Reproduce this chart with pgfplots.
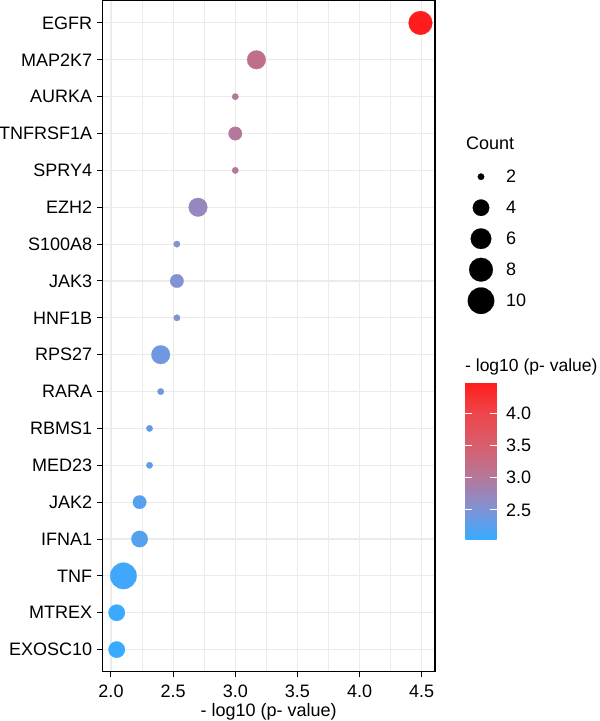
\documentclass[border=0pt]{standalone}
\usepackage{pgfplots}
\pgfplotsset{compat=1.18}
\usepackage{pgfplotstable}
\usepackage{fontspec}
\setmainfont{Liberation Sans}
\newcommand{\fs}{\fontsize{18bp}{21bp}\selectfont}
\definecolor{gridc}{RGB}{235,235,235}
\pgfplotsset{
  colormap={pv}{rgb255(0pt)=(56,170,255); rgb255(18pt)=(125,148,215); rgb255(39pt)=(180,120,155); rgb255(59pt)=(215,95,110); rgb255(80pt)=(238,70,75); rgb255(100pt)=(255,28,28)}
}
\pgfplotstableread{
gene pv count idx
EGFR 4.49 8 0
MAP2K7 3.17 5 1
AURKA 3.00 2 2
TNFRSF1A 3.00 3 3
SPRY4 3.00 2 4
EZH2 2.70 5 5
S100A8 2.53 2 6
JAK3 2.53 3 7
HNF1B 2.53 2 8
RPS27 2.40 5 9
RARA 2.40 2 10
RBMS1 2.31 2 11
MED23 2.31 2 12
JAK2 2.23 3 13
IFNA1 2.23 4 14
TNF 2.10 10 15
MTREX 2.046 4 16
EXOSC10 2.046 4 17
}\genes
\pgfplotstableread{
cnt idx
2 1
4 2
6 3
8 4
10 5
}\sizeleg
\begin{document}
\begin{tikzpicture}
\useasboundingbox (0,0) rectangle (600bp,-721bp);
\begin{axis}[
  at={(102.3bp,-671.7bp)}, anchor=south west,
  scale only axis, width=332.7bp, height=670.9bp,
  xmin=1.93, xmax=4.607,
  ymin=-0.6, ymax=17.6, y dir=reverse,
  xtick={2,2.5,3,3.5,4,4.5}, minor x tick num=1,
  ytick={0,1,2,3,4,5,6,7,8,9,10,11,12,13,14,15,16,17},
  yticklabels={EGFR,MAP2K7,AURKA,TNFRSF1A,SPRY4,EZH2,S100A8,JAK3,HNF1B,RPS27,RARA,RBMS1,MED23,JAK2,IFNA1,TNF,MTREX,EXOSC10},
  xtick pos=bottom, ytick pos=left,
  tick align=outside, major tick length=5.5bp, minor tick length=0pt,
  tick style={black, line width=1bp},
  xmajorgrids, xminorgrids, ymajorgrids,
  major grid style={gridc, line width=1.1bp},
  minor grid style={gridc, line width=0.6bp},
  axis line style={black, line width=1.1bp},
  tick label style={font=\fs, black},
  yticklabel style={anchor=east, inner sep=0pt, xshift=-4.5bp},
  /pgf/number format/assume math mode=true,
  xticklabel style={anchor=north, inner sep=0pt, yshift=-7.5bp, /pgf/number format/.cd, fixed, fixed zerofill, precision=1},
  xlabel={- log10 (p- value)},
  xlabel style={font=\fs, at={(axis description cs:0.5,0)}, anchor=center, yshift=-40bp},
  point meta min=2.046, point meta max=4.49,
  colormap name=pv,
  colorbar right,
  colorbar/width=31.4bp,
  colorbar style={
    at={(parent axis.north east)}, anchor=north west,
    xshift=21.8bp, yshift=-381.2bp,
    scale only axis, width=31.4bp, height=157bp,
    axis on top,
    ytick={2.5,3,3.5,4},
    yticklabel pos=right, ytick pos=both,
    tick align=inside, major tick length=6.5bp,
    ytick style={white, line width=1.2bp},
    axis line style={draw=none},
    yticklabel style={font=\fs, black, anchor=west, inner sep=0pt, xshift=9.3bp, /pgf/number format/.cd, fixed, fixed zerofill, precision=1, assume math mode=true},
  },
]
\addplot[scatter, only marks, mark=*, point meta=x,
  scatter/use mapped color={draw=mapped color, fill=mapped color},
  mark options={line width=0.2bp},
  visualization depends on={2*(1+5*sqrt((\thisrow{count}-2)/8))+1.25 \as \msize},
  scatter/@pre marker code/.append style={/tikz/mark size=\msize},
] table[x=pv, y=idx] {\genes};
\end{axis}

\begin{axis}[
  at={(466bp,-316.2bp)}, anchor=south west,
  scale only axis, width=30bp, height=155bp, hide axis,
  xmin=-1, xmax=1, ymin=0.5, ymax=5.5, y dir=reverse, clip=false,
]
\addplot[scatter, only marks, mark=*, point meta=y,
  scatter/use mapped color={draw=black, fill=black},
  mark options={line width=0.2bp},
  visualization depends on={2*(1+5*sqrt((\thisrow{cnt}-2)/8))+1.25 \as \msize},
  scatter/@pre marker code/.append style={/tikz/mark size=\msize},
] table[x expr=0, y=idx] {\sizeleg};
\end{axis}

\node[anchor=west, inner sep=0, font=\fs] at (466bp,-143bp) {Count};
\node[anchor=west, inner sep=0, font=\fs] at (506bp,-176.7bp) {2};
\node[anchor=west, inner sep=0, font=\fs] at (506bp,-207.7bp) {4};
\node[anchor=west, inner sep=0, font=\fs] at (506bp,-238.7bp) {6};
\node[anchor=west, inner sep=0, font=\fs] at (506bp,-269.7bp) {8};
\node[anchor=west, inner sep=0, font=\fs] at (506bp,-300.7bp) {10};
\node[anchor=west, inner sep=0, font=\fontsize{17.5bp}{21bp}\selectfont] at (465bp,-366.7bp) {- log10 (p- value)};
\end{tikzpicture}
\end{document}
